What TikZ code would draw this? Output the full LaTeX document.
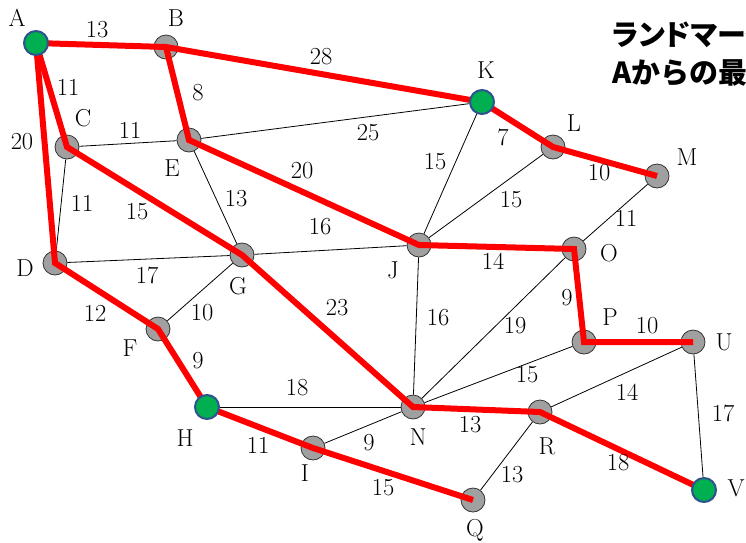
\documentclass[tikz,border=0pt]{standalone}
\usepackage{fontspec}
\newfontfamily\cjkp{Noto Sans CJK JP}[RawFeature=+palt]
\newfontfamily\cjk{Noto Sans CJK JP}
\definecolor{nodegray}{RGB}{160,160,160}
\definecolor{pathred}{RGB}{255,0,0}
\definecolor{landgreen}{RGB}{0,176,80}
\definecolor{landblue}{RGB}{47,82,143}
\pgfdeclarelayer{bg}
\pgfdeclarelayer{fg}
\pgfsetlayers{bg,main,fg}
\tikzset{
  vtx/.style={circle, minimum size=24pt, inner sep=0pt, fill=nodegray, draw=black!80, line width=0.8pt},
  land/.style={circle, minimum size=24pt, inner sep=0pt, fill=landgreen, draw=landblue, line width=2pt},
  lbl/.style={font=\fontsize{24.5}{25}\selectfont, inner sep=0pt},
  wt/.style={font=\fontsize{24.5}{25}\selectfont, inner sep=0pt},
  edge/.style={draw=black, line width=0.8pt},
  best/.style={draw=pathred, line width=6pt}
}
\begin{document}
\begin{tikzpicture}[x=1pt,y=-1pt]
\useasboundingbox (0,0) rectangle (746,542);
% gray nodes
\node[vtx] (B) at (166,47) {};
\node[vtx] (C) at (67,147) {};
\node[vtx] (E) at (189,140) {};
\node[vtx] (L) at (553,147) {};
\node[vtx] (M) at (657,176) {};
\node[vtx] (D) at (55,263) {};
\node[vtx] (G) at (242,255) {};
\node[vtx] (F) at (158,329) {};
\node[vtx] (J) at (419,245) {};
\node[vtx] (O) at (574,249) {};
\node[vtx] (P) at (584,342) {};
\node[vtx] (U) at (693,342) {};
\node[vtx] (N) at (413,407) {};
\node[vtx] (I) at (313,448) {};
\node[vtx] (Q) at (473,500) {};
\node[vtx] (R) at (540,412) {};
% landmark nodes
\begin{pgfonlayer}{fg}
\node[land] (A) at (36,43) {};
\node[land] (K) at (482,102) {};
\node[land] (H) at (207,407) {};
\node[land] (V) at (704,490) {};
\end{pgfonlayer}
% black edges
\begin{pgfonlayer}{bg}
\path[edge] (A) -- (B);
\path[edge] (A) -- (C);
\path[edge] (A) -- (D);
\path[edge] (B) -- (E);
\path[edge] (B) -- (K);
\path[edge] (C) -- (E);
\path[edge] (C) -- (D);
\path[edge] (C) -- (G);
\path[edge] (E) -- (K);
\path[edge] (E) -- (J);
\path[edge] (E) -- (G);
\path[edge] (K) -- (L);
\path[edge] (K) -- (J);
\path[edge] (L) -- (M);
\path[edge] (L) -- (J);
\path[edge] (M) -- (O);
\path[edge] (D) -- (G);
\path[edge] (G) -- (J);
\path[edge] (D) -- (F);
\path[edge] (G) -- (F);
\path[edge] (G) -- (N);
\path[edge] (J) -- (N);
\path[edge] (J) -- (O);
\path[edge] (O) -- (P);
\path[edge] (O) -- (N);
\path[edge] (P) -- (U);
\path[edge] (P) -- (N);
\path[edge] (F) -- (H);
\path[edge] (H) -- (N);
\path[edge] (H) -- (I);
\path[edge] (I) -- (N);
\path[edge] (I) -- (Q);
\path[edge] (N) -- (R);
\path[edge] (R) -- (Q);
\path[edge] (R) -- (U);
\path[edge] (R) -- (V);
\path[edge] (U) -- (V);
\end{pgfonlayer}
% shortest path tree
\path[best] (A.center) -- (B.center) -- (K.center) -- (L.center) -- (M.center);
\path[best] (B.center) -- (E.center) -- (J.center) -- (O.center) -- (P.center) -- (U.center);
\path[best] (A.center) -- (C.center) -- (G.center) -- (N.center) -- (R.center) -- (V.center);
\path[best] (A.center) -- (D.center) -- (F.center) -- (H.center) -- (I.center) -- (Q.center);
% node labels
\node[lbl] (lA) at (17,18) {A};
\node[lbl] (lB) at (176,18) {B};
\node[lbl] (lC) at (83,118) {C};
\node[lbl] (lE) at (172,168) {E};
\node[lbl] (lK) at (486,70) {K};
\node[lbl] (lL) at (574,123) {L};
\node[lbl] (lM) at (687,157) {M};
\node[lbl] (lD) at (25,268) {D};
\node[lbl] (lG) at (238,286) {G};
\node[lbl] (lF) at (130,348) {F};
\node[lbl] (lJ) at (393,270) {J};
\node[lbl] (lO) at (609,253) {O};
\node[lbl] (lP) at (610,317) {P};
\node[lbl] (lU) at (724,342) {U};
\node[lbl] (lH) at (185,438) {H};
\node[lbl] (lN) at (418,437) {N};
\node[lbl] (lI) at (305,473) {I};
\node[lbl] (lR) at (547,446) {R};
\node[lbl] (lQ) at (475,530) {Q};
\node[lbl] (lV) at (736,488) {V};
% weights
\node[wt] (wAB) at (97,30) {13};
\node[wt] (wBK) at (321,57) {28};
\node[wt] (wAC) at (68,87) {11};
\node[wt] (wAD) at (22,142) {20};
\node[wt] (wBE) at (198,93) {8};
\node[wt] (wCE) at (130,130) {11};
\node[wt] (wEK) at (368,133) {25};
\node[wt] (wKJ) at (435,162) {15};
\node[wt] (wKL) at (503,137) {7};
\node[wt] (wLM) at (599,173) {10};
\node[wt] (wEJ) at (302,171) {20};
\node[wt] (wLJ) at (511,200) {15};
\node[wt] (wMO) at (626,218) {11};
\node[wt] (wCD) at (82,203) {11};
\node[wt] (wCG) at (137,212) {15};
\node[wt] (wEG) at (236,199) {13};
\node[wt] (wGJ) at (320,227) {16};
\node[wt] (wDG) at (147,275) {17};
\node[wt] (wJO) at (493,261) {14};
\node[wt] (wDF) at (95,313) {12};
\node[wt] (wFG) at (202,313) {10};
\node[wt] (wGN) at (337,308) {23};
\node[wt] (wJN) at (438,318) {16};
\node[wt] (wON) at (515,326) {19};
\node[wt] (wOP) at (567,298) {9};
\node[wt] (wPU) at (647,326) {10};
\node[wt] (wPN) at (527,375) {15};
\node[wt] (wRU) at (627,392) {14};
\node[wt] (wFH) at (198,361) {9};
\node[wt] (wHN) at (297,388) {18};
\node[wt] (wUV) at (723,413) {17};
\node[wt] (wHI) at (258,445) {11};
\node[wt] (wIN) at (369,443) {9};
\node[wt] (wNR) at (470,425) {13};
\node[wt] (wRV) at (618,463) {18};
\node[wt] (wRQ) at (512,475) {13};
\node[wt] (wIQ) at (383,488) {15};
% title
\node[anchor=north west, inner sep=0pt, align=left, font=\bfseries\fontsize{29}{38}\selectfont] (title) at (612,21) {{\cjkp ランドマーク}\\{\cjk Aからの最短}};
\end{tikzpicture}
\end{document}
